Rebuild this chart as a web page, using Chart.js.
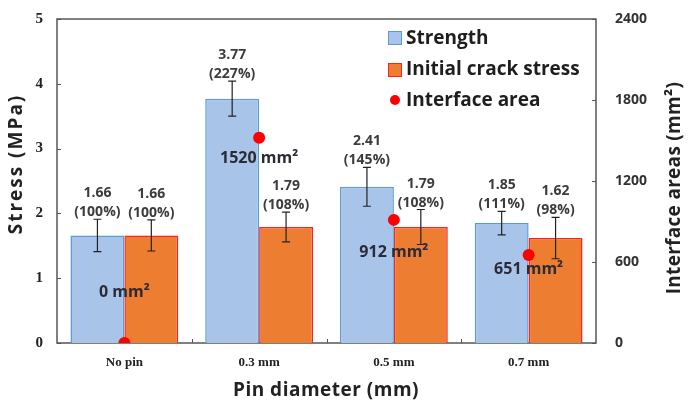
<!DOCTYPE html>
<html>
<head>
<meta charset="utf-8">
<script src="https://cdn.jsdelivr.net/npm/chart.js@4.4.1/dist/chart.umd.min.js"></script>
<style>
  html, body { margin: 0; padding: 0; background: #fff; }
  #wrap { width: 692px; height: 403px; position: relative; }
</style>
</head>
<body>
<div id="wrap"><canvas id="c"></canvas></div>
<script>
// ---------- data ----------
const categories = ['No pin', '0.3 mm', '0.5 mm', '0.7 mm'];
const strength = [1.66, 3.77, 2.41, 1.85];
const strengthErr = [0.25, 0.27, 0.30, 0.18];
const strengthPct = [100, 227, 145, 111];
const crack = [1.66, 1.79, 1.79, 1.62];
const crackErr = [0.24, 0.23, 0.27, 0.32];
const crackPct = [100, 108, 108, 98];
const area = [0, 1520, 912, 651];
const stressTicks = [0, 1, 2, 3, 4, 5];
const areaTicks = [0, 600, 1200, 1800, 2400];

// ---------- style ----------
const BLUE_FILL = 'rgb(168,196,232)';
const BLUE_EDGE = 'rgb(91,155,213)';
const ORANGE_FILL = 'rgb(237,125,49)';
const ORANGE_EDGE = 'rgb(250,35,30)';
const DOT = 'rgb(255,0,0)';
const SANS = '"Open Sans", "Noto Sans", sans-serif';
const SERIF = '"Liberation Serif", "DejaVu Serif", serif';
const areaLabelDy = [-51, 21, 33, 14];   // label offset from dot (px)

const overlay = {
  id: 'overlay',
  beforeDatasetsDraw(chart) {
    const { ctx, chartArea: a, scales } = chart;
    ctx.save();
    ctx.strokeStyle = '#555';
    ctx.lineWidth = 1.5;
    ctx.strokeRect(a.left, a.top, a.right - a.left, a.bottom - a.top);
    ctx.lineWidth = 1;
    ctx.beginPath();
    stressTicks.forEach(v => {
      const y = Math.round(scales.y.getPixelForValue(v)) + 0.5;
      ctx.moveTo(a.left, y); ctx.lineTo(a.left + 4, y);
    });
    areaTicks.forEach(v => {
      const y = Math.round(scales.y2.getPixelForValue(v)) + 0.5;
      ctx.moveTo(a.right - 4, y); ctx.lineTo(a.right, y);
    });
    for (let i = 0; i < categories.length - 1; i++) {
      const x = Math.round((scales.x.getPixelForValue(i) + scales.x.getPixelForValue(i + 1)) / 2) + 0.5;
      ctx.moveTo(x, a.bottom); ctx.lineTo(x, a.bottom - 4);
    }
    ctx.stroke();
    ctx.restore();
  },
  afterDatasetsDraw(chart) {
    const { ctx, scales } = chart;
    const sets = [
      { idx: 0, vals: strength, err: strengthErr, pct: strengthPct },
      { idx: 1, vals: crack, err: crackErr, pct: crackPct }
    ];
    ctx.save();
    sets.forEach(s => {
      const meta = chart.getDatasetMeta(s.idx);
      meta.data.forEach((el, i) => {
        const x = el.x;
        const yT = scales.y.getPixelForValue(s.vals[i] + s.err[i]);
        const yB = scales.y.getPixelForValue(s.vals[i] - s.err[i]);
        ctx.strokeStyle = '#222';
        ctx.lineWidth = 1.2;
        ctx.beginPath();
        ctx.moveTo(x, yT); ctx.lineTo(x, yB);
        ctx.moveTo(x - 4, yT); ctx.lineTo(x + 4, yT);
        ctx.moveTo(x - 4, yB); ctx.lineTo(x + 4, yB);
        ctx.stroke();
        ctx.fillStyle = '#3c3c3c';
        ctx.font = 'bold 14px ' + SANS;
        ctx.textAlign = 'center';
        ctx.textBaseline = 'alphabetic';
        ctx.fillText(s.vals[i].toFixed(2), x, yT - 22);
        ctx.fillText('(' + s.pct[i] + '%)', x, yT - 3);
      });
    });
    const dm = chart.getDatasetMeta(2);
    dm.data.forEach((pt, i) => {
      ctx.fillStyle = '#2b2b38';
      ctx.font = 'bold 16px ' + SANS;
      ctx.textAlign = 'center';
      ctx.textBaseline = 'middle';
      ctx.fillText(area[i] + ' mm\u00B2', pt.x, pt.y + areaLabelDy[i]);
    });
    ctx.restore();
  },
  afterDraw(chart) {
    const { ctx } = chart;
    ctx.save();
    // legend
    ctx.font = 'bold 19px ' + SANS;
    ctx.textBaseline = 'middle';
    ctx.textAlign = 'left';
    ctx.fillStyle = BLUE_FILL; ctx.fillRect(388, 31, 14, 14);
    ctx.strokeStyle = BLUE_EDGE; ctx.lineWidth = 1; ctx.strokeRect(388.5, 31.5, 13, 13);
    ctx.fillStyle = ORANGE_FILL; ctx.fillRect(388, 63, 14, 14);
    ctx.strokeStyle = ORANGE_EDGE; ctx.strokeRect(388.5, 63.5, 13, 13);
    ctx.fillStyle = DOT; ctx.beginPath(); ctx.arc(395, 100, 5, 0, Math.PI * 2); ctx.fill();
    ctx.fillStyle = '#1e1e1e';
    ctx.fillText('Strength', 406, 39);
    ctx.fillText('Initial crack stress', 406, 70);
    ctx.fillText('Interface area', 406, 101);
    // axis titles
    ctx.font = 'bold 19px ' + SANS;
    ctx.fillStyle = '#222';
    ctx.textAlign = 'center';
    ctx.letterSpacing = '0.5px';
    ctx.fillText('Pin diameter (mm)', 326, 391);
    ctx.save();
    ctx.letterSpacing = '2px';
    ctx.translate(17, 164); ctx.rotate(-Math.PI / 2);
    ctx.fillText('Stress (MPa)', 0, 0);
    ctx.restore();
    ctx.save();
    ctx.letterSpacing = '0.3px';
    ctx.translate(675, 188); ctx.rotate(-Math.PI / 2);
    ctx.fillText('Interface areas (mm\u00B2)', 0, 0);
    ctx.restore();
    ctx.restore();
  }
};

const zeroPad = s => { s.paddingTop = 0; s.paddingBottom = 0; };

new Chart(document.getElementById('c'), {
  type: 'bar',
  data: {
    labels: categories,
    datasets: [
      { label: 'Strength', data: strength, yAxisID: 'y', backgroundColor: BLUE_FILL,
        borderColor: BLUE_EDGE, borderWidth: 1.5, order: 2 },
      { label: 'Initial crack stress', data: crack, yAxisID: 'y', backgroundColor: ORANGE_FILL,
        borderColor: ORANGE_EDGE, borderWidth: 1.5, order: 2 },
      { type: 'line', label: 'Interface area', data: area, yAxisID: 'y2', showLine: false,
        pointRadius: 6, pointBackgroundColor: DOT, pointBorderColor: DOT, pointBorderWidth: 0, order: 1 }
    ]
  },
  options: {
    responsive: true,
    maintainAspectRatio: false,
    animation: false,
    events: [],
    layout: { padding: { top: 19, left: 0, right: 0, bottom: 0 } },
    datasets: { bar: { categoryPercentage: 0.8, barPercentage: 1.0 } },
    plugins: { legend: { display: false }, tooltip: { enabled: false } },
    scales: {
      x: {
        grid: { display: false, drawTicks: false },
        border: { display: false },
        ticks: { color: '#222', font: { family: SERIF, size: 13, weight: 'bold' }, padding: 12 },
        afterFit: s => { s.height = 60; s.paddingLeft = 0; s.paddingRight = 0; }
      },
      y: {
        position: 'left', min: 0, max: 5,
        grid: { display: false, drawTicks: false },
        border: { display: false },
        ticks: { stepSize: 1, color: '#222', font: { family: SERIF, size: 15, weight: 'bold' }, padding: 14 },
        afterFit: s => { s.width = 57; zeroPad(s); }
      },
      y2: {
        position: 'right', min: 0, max: 2400,
        grid: { display: false, drawTicks: false },
        border: { display: false },
        ticks: { stepSize: 600, color: '#333', font: { family: SANS, size: 14, weight: 'bold' }, padding: 19,
                 callback: v => String(v) },
        afterFit: s => { s.width = 96; zeroPad(s); }
      }
    }
  },
  plugins: [overlay]
});
</script>
</body>
</html>
